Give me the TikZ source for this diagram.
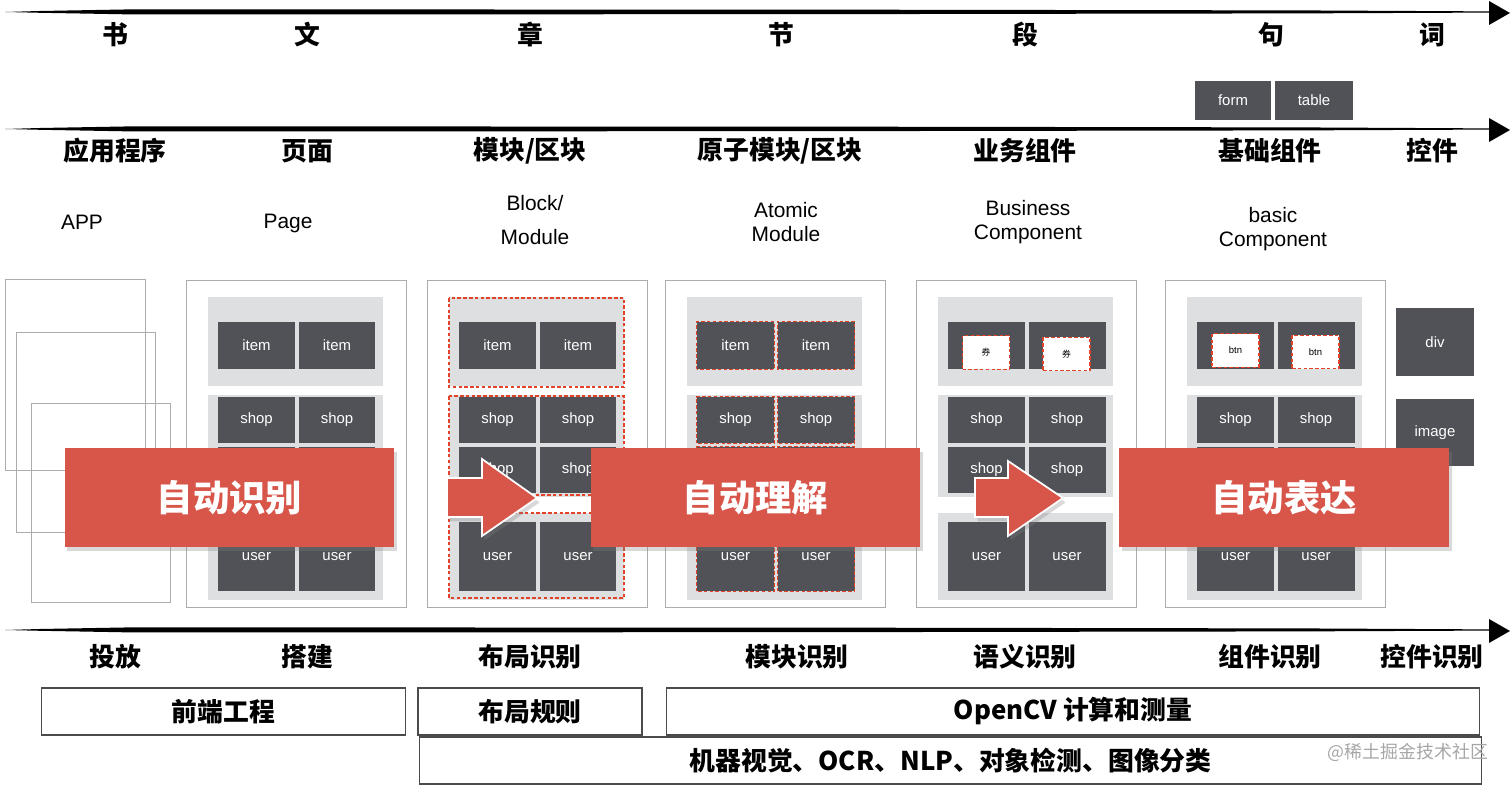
\documentclass[tikz,border=0pt]{standalone}
\usepackage{fontspec}
\setmainfont{Liberation Sans}
\newfontfamily\cjk{Noto Sans CJK SC}
\usetikzlibrary{shadows}

\definecolor{celgrijs}{RGB}{80,82,87}
\definecolor{vakgrijs}{RGB}{222,223,225}
\definecolor{randgrijs}{RGB}{172,172,172}
\definecolor{bannerrood}{RGB}{216,85,74}
\definecolor{streeprood}{RGB}{226,66,40}
\definecolor{kaderzwart}{RGB}{75,75,75}

\tikzset{
  kop/.style={font=\cjk\bfseries\fontsize{14.7}{16}\selectfont, inner sep=0pt},
  engels/.style={font=\fontsize{11.9}{14}\selectfont, inner sep=0pt, align=center},
  paneel/.style={draw=randgrijs, line width=0.5pt},
  cel/.style={fill=celgrijs, text=white, font=\fontsize{8.5}{10}\selectfont,
    inner sep=0pt, minimum width=1.54cm, minimum height=0.94cm},
  rodestreep/.style={draw=streeprood, line width=0.7pt, dash pattern=on 2pt off 1.3pt},
  kind/.style={fill=white, rodestreep, inner sep=0pt, minimum width=0.94cm, minimum height=0.67cm},
  banner/.style={fill=bannerrood, text=white, inner sep=0pt,
    minimum width=6.6cm, minimum height=1.98cm,
    font=\cjk\bfseries\fontsize{20.7}{24}\selectfont,
    drop shadow={opacity=0.3, shadow xshift=1.5pt, shadow yshift=-2.5pt}},
  pijl/.style={fill=bannerrood, draw=white, line width=1pt,
    drop shadow={opacity=0.3, shadow xshift=1.5pt, shadow yshift=-2.5pt}},
  kader/.style={draw=kaderzwart, line width=0.6pt, inner sep=0pt, minimum height=0.94cm,
    font=\cjk\bfseries\fontsize{14.7}{16}\selectfont}
}

\begin{document}
\begin{tikzpicture}[x=0.02cm, y=-0.02cm]
    \useasboundingbox (0,0) rectangle (1512,786);

    % Penseelstreken met pijlpunt
    \foreach \h in {12,129,630} {
        \fill[black] (5,\h) -- (40,\h-1) -- (130,\h-2.6) -- (800,\h-2.4) -- (1300,\h-1.6)
            -- (1490,\h-0.6) -- (1490,\h+0.6) -- (1300,\h+1.4) -- (800,\h+2.2)
            -- (130,\h+2.4) -- (40,\h+0.8) -- cycle;
        \fill[black] (1489,\h-11) -- (1510,\h+1) -- (1489,\h+13) -- cycle;
    }

    % Bovenste rij: tekstniveaus
    \foreach \woord/\x [count=\i] in {书/115, 文/307, 章/530, 节/781, 段/1025, 句/1271, 词/1432}
        \node[kop] (tekst\i) at (\x,35) {\woord};

    % form en table
    \node[cel, minimum width=1.52cm, minimum height=0.78cm] (form) at (1233,100.5) {form};
    \node[cel, minimum width=1.56cm, minimum height=0.78cm] (table) at (1314,100.5) {table};

    % Tweede rij: UI-niveaus
    \foreach \woord/\x [count=\i] in {应用程序/115, 页面/307, {模块/区块}/530, {原子模块/区块}/780,
        业务组件/1025, 基础组件/1270, 控件/1432}
        \node[kop] (laag\i) at (\x,151) {\woord};

    % Engelse namen
    \node[engels] (app) at (82,222) {APP};
    \node[engels] (page) at (288,223) {Page};
    \node[engels] (block) at (535,220) {Block/\\[5pt]Module};
    \node[engels] (atomic) at (786,222) {Atomic\\Module};
    \node[engels] (business) at (1028,222) {Business\\Component};
    \node[engels] (basic) at (1273,229) {basic\\Component};

    % Applicatie: gestapelde pagina's
    \foreach \a/\b/\c/\d in {5/279/145/470, 16/332/155/532, 31/403/170/602}
        \draw[paneel] (\a,\b) rectangle (\c,\d);

    % Pagina-panelen met grijze vakken en cellen
    \foreach \x/\boven [count=\p] in {186/item, 427/item, 665/item, 916/{}, 1165/{}} {
        \draw[paneel] (\x,280) rectangle ++(220,327);
        \fill[vakgrijs] (\x+22,297) rectangle (\x+197,386);
        \fill[vakgrijs] (\x+22,395) rectangle (\x+197,497);
        \fill[vakgrijs] (\x+22,513) rectangle (\x+197,600);
        \foreach \tekst/\y/\hoog [count=\r] in {\boven/345.5/0.94, shop/420/0.92, shop/470/0.92, user/556.5/1.38} {
            \node[cel, minimum height=\hoog cm] (c\p-\r-1) at (\x+70.5,\y) {\tekst};
            \node[cel, minimum height=\hoog cm] (c\p-\r-2) at (\x+151,\y) {\tekst};
        }
    }

    % Layout: gestreepte vakken
    \foreach \a/\b in {298/387, 396/495, 513/598}
        \draw[rodestreep] (449,\a) rectangle (624,\b);

    % Atomaire modules: gestreepte cellen
    \foreach \r in {1,...,4}
        \foreach \k in {1,2}
            \draw[rodestreep] (c3-\r-\k.south west) rectangle (c3-\r-\k.north east);

    % Bedrijfscomponenten en basiscomponenten
    \node[kind, font=\cjk\fontsize{5}{6}\selectfont] (quan1) at (986,352.5) {券};
    \node[kind, font=\cjk\fontsize{5}{6}\selectfont] (quan2) at (1066.5,354) {券};
    \node[kind, font=\fontsize{5.4}{6}\selectfont] (btn1) at (1235.5,350.5) {btn};
    \node[kind, font=\fontsize{5.4}{6}\selectfont] (btn2) at (1315.5,352) {btn};

    % Losse controls
    \node[cel, minimum width=1.56cm, minimum height=1.36cm] (div) at (1435,342) {div};
    \node[cel, minimum width=1.56cm, minimum height=1.34cm] (image) at (1435,432.5) {image};

    % Rode banners
    \node[banner] (herkennen) at (229.5,497.5) {自动识别};
    \node[banner] (begrijpen) at (755.5,497.5) {自动理解};
    \node[banner] (uitdrukken) at (1284,497.5) {自动表达};

    % Rode pijlen
    \filldraw[pijl] (447,478) -- (482,478) -- (482,459) -- (537,498) -- (482,536) -- (482,517) -- (447,517) -- cycle;
    \filldraw[pijl] (975,478) -- (1008,478) -- (1008,461) -- (1063,498) -- (1008,536) -- (1008,517) -- (975,517) -- cycle;

    % Onderste rij: herkenningsstappen
    \foreach \woord/\x [count=\i] in {投放/115, 搭建/307, 布局识别/530, 模块识别/797, 语义识别/1025,
        组件识别/1270, 控件识别/1432}
        \node[kop] (stap\i) at (\x,657) {\woord};

    % Technieken
    \node[kader, minimum width=7.3cm] (frontend) at (223.5,711.5) {前端工程};
    \node[kader, minimum width=4.48cm] (regels) at (530,711.5) {布局规则};
    \node[kader, minimum width=16.28cm] (opencv) at (1073,711.5) {OpenCV 计算和测量};
    \node[kader, minimum width=21.26cm] (visie) at (950.5,760.5) {机器视觉、OCR、NLP、对象检测、图像分类};

    % Watermerk
    \node[font=\cjk\fontsize{10.2}{12}\selectfont, text=black!35, inner sep=0pt] (merk) at (1408,752) {@稀土掘金技术社区};
\end{tikzpicture}
\end{document}
